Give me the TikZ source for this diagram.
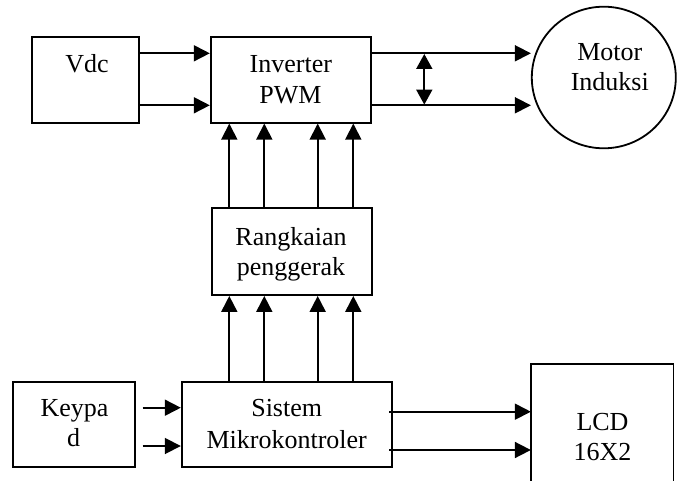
\documentclass[tikz,border=0pt]{standalone}
\usepackage{fontspec}
\setmainfont{Liberation Serif}
\usetikzlibrary{arrows.meta,shapes.geometric,calc}
\begin{document}
\begin{tikzpicture}[x=1pt,y=-1pt,
  boxnode/.style={draw,line width=1.8pt,rectangle,inner sep=0pt},
  txt/.style={anchor=base,inner sep=0pt,font=\fontsize{26}{30}\selectfont},
  arr/.style={line width=1.8pt,-{Triangle[length=16pt,width=16pt]}},
  darr/.style={line width=1.8pt,{Triangle[length=15pt,width=16pt]}-{Triangle[length=15pt,width=16pt]}}]
\useasboundingbox (0,0) rectangle (677,481);
% boxes
\node[boxnode,minimum width=107pt,minimum height=86pt] (vdc) at (85.8,79.7) {};
\node[boxnode,minimum width=160.6pt,minimum height=86pt] (inv) at (291,79.7) {};
\node[boxnode,minimum width=160pt,minimum height=86.7pt] (rang) at (291.7,251.7) {};
\node[boxnode,minimum width=122.3pt,minimum height=85.6pt] (key) at (73.9,424.5) {};
\node[boxnode,minimum width=210pt,minimum height=85.6pt] (sis) at (286.7,424.5) {};
\node[inner sep=0pt,minimum width=142.3pt,minimum height=117pt] (lcd) at (602.2,422.5) {};
\draw[line width=1.8pt] (lcd.south west) -- (lcd.north west) -- (lcd.north east) -- (lcd.south east);
\node[draw,line width=1.8pt,ellipse,inner sep=0pt,minimum width=144pt,minimum height=141.6pt] (motor) at (603.8,77.5) {};
% texts
\node[txt] (tvdc) at (87,72.5) {Vdc};
\node[txt] (tinv1) at (290.8,72.5) {Inverter};
\node[txt] (tinv2) at (290.5,103.3) {PWM};
\node[txt] (tmot1) at (609.8,61) {Motor};
\node[txt] (tmot2) at (609.8,91) {Induksi};
\node[txt] (trang1) at (291,245) {Rangkaian};
\node[txt] (trang2) at (291,275) {penggerak};
\node[txt] (tkey1) at (74.5,416.7) {Keypa};
\node[txt] (tkey2) at (73.5,446.7) {d};
\node[txt] (tsis1) at (286.7,416.7) {Sistem};
\node[txt] (tsis2) at (286.7,448.3) {Mikrokontroler};
\node[txt] (tlcd1) at (602.5,430) {LCD};
\node[txt] (tlcd2) at (602.5,460) {16X2};
% helper coordinates
\coordinate (ya) at (0,53.3);
\coordinate (yb) at (0,105.3);
\coordinate (yk1) at (0,407.7);
\coordinate (yk2) at (0,446);
\coordinate (ys1) at (0,411.7);
\coordinate (ys2) at (0,450);
\coordinate (cx1) at (229.3,0);
\coordinate (cx2) at (264.3,0);
\coordinate (cx3) at (317.7,0);
\coordinate (cx4) at (353.3,0);
\coordinate (da1) at (424.3,54);
\coordinate (da2) at (424.3,104.6);
% connectors
\draw[arr] (vdc.east |- ya) -- (inv.west |- ya);
\draw[arr] (vdc.east |- yb) -- (inv.west |- yb);
\draw[arr] (inv.east |- ya) -- (motor.west |- ya);
\draw[arr] (inv.east |- yb) -- (motor.west |- yb);
\draw[darr] (da1) -- (da2);
\foreach \c in {cx1,cx2,cx3,cx4} {
  \draw[arr] (rang.north -| \c) -- (inv.south -| \c);
  \draw[arr] (sis.north -| \c) -- (rang.south -| \c);
}
\draw[arr] ($(key.east |- yk1)+(6.7,0)$) -- (sis.west |- yk1);
\draw[arr] ($(key.east |- yk2)+(6.7,0)$) -- (sis.west |- yk2);
\draw[arr] ($(sis.east |- ys1)+(-3.5,0)$) -- (lcd.west |- ys1);
\draw[arr] ($(sis.east |- ys2)+(-3.5,0)$) -- (lcd.west |- ys2);
\end{tikzpicture}
\end{document}
